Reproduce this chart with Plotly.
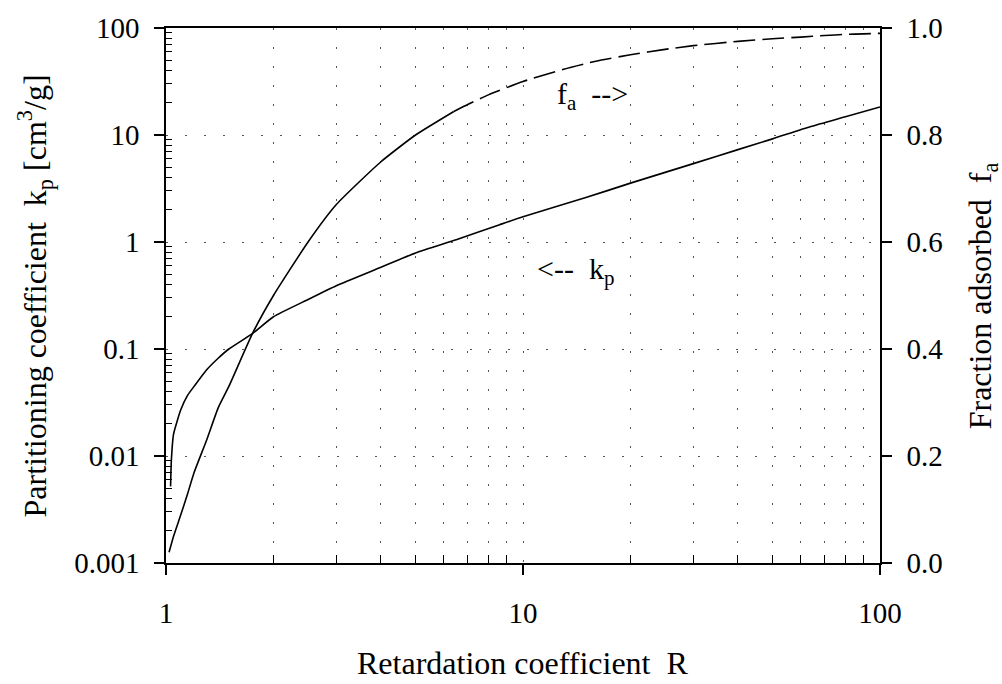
import plotly.graph_objects as go

# Retardation coefficient R versus partitioning coefficient k_p (left, log axis)
R_kp = [1.03, 1.035, 1.05, 1.1, 1.15, 1.2, 1.3, 1.4, 1.5, 1.75, 2.0, 2.5, 3.0,
        4.0, 5.0, 6.5, 8.6, 10, 15, 20, 30, 40, 50, 64, 80, 100]
kp = [0.0052, 0.009, 0.016, 0.027, 0.037, 0.045, 0.064, 0.082, 0.10, 0.14, 0.20,
      0.29, 0.39, 0.58, 0.79, 1.05, 1.45, 1.72, 2.6, 3.55, 5.4, 7.3, 9.2, 12.0,
      14.8, 18.3]

# Fraction adsorbed f_a (right, linear axis): solid part, then dashed part
R_fa_solid = [1.02, 1.05, 1.1, 1.15, 1.2, 1.3, 1.4, 1.5, 1.75, 2.0, 2.5, 3.0,
              4.0, 5.0, 6.4]
fa_solid = [0.02, 0.05, 0.09, 0.13, 0.17, 0.23, 0.29, 0.33, 0.43, 0.50, 0.60,
            0.67, 0.75, 0.80, 0.844]
R_fa_dash = [6.4, 7, 8, 10, 13, 16, 20, 25, 30, 40, 50, 60, 70, 80, 90, 100]
fa_dash = [0.844, 0.857, 0.875, 0.90, 0.923, 0.938, 0.95, 0.96, 0.967, 0.975,
           0.98, 0.983, 0.986, 0.988, 0.989, 0.99]

# Axis ticks
x_major = [1, 10, 100]
x_major_text = ["1", "10", "100"]
x_minor = [m * d for d in (1, 10) for m in range(2, 10)]
y_major = [0.001, 0.01, 0.1, 1, 10, 100]
y_major_text = ["0.001", "0.01", "0.1", "1", "10", "100"]
y_minor = [m * d for d in (0.001, 0.01, 0.1, 1, 10) for m in range(2, 10)]
fa_ticks = [0.0, 0.2, 0.4, 0.6, 0.8, 1.0]
fa_text = ["0.0", "0.2", "0.4", "0.6", "0.8", "1.0"]

FONT = "Liberation Serif"
FS_TICK = 29
FS_TITLE = 32
FS_NOTE = 30
INK = "black"
GRID = "#555555"
GRID_DASH = "2px,17px"

curve = dict(color=INK, width=1.6, shape="spline", smoothing=0.5)

fig = go.Figure()
fig.add_trace(go.Scatter(x=R_kp, y=kp, mode="lines", xaxis="x", yaxis="y",
                         line=curve, showlegend=False))
fig.add_trace(go.Scatter(x=R_fa_solid, y=fa_solid, mode="lines", xaxis="x", yaxis="y2",
                         line=curve, showlegend=False))
fig.add_trace(go.Scatter(x=R_fa_dash, y=fa_dash, mode="lines", xaxis="x", yaxis="y2",
                         line=dict(curve, dash="22px,7px"), showlegend=False))

tickfont = dict(family=FONT, size=FS_TICK, color=INK)

fig.update_layout(
    width=1002, height=684,
    margin=dict(l=166, r=122, t=20, b=121),
    paper_bgcolor="white", plot_bgcolor="white",
    font=dict(family=FONT, size=FS_TICK, color=INK),
    xaxis=dict(
        type="log", range=[0, 2], anchor="y",
        tickmode="array", tickvals=x_major, ticktext=x_major_text,
        ticks="outside", ticklen=10, tickwidth=1.5, tickcolor=INK,
        tickfont=tickfont, ticklabelstandoff=13,
        showline=True, linecolor=INK, linewidth=1.5, mirror=True,
        showgrid=True, gridcolor=GRID, gridwidth=1, griddash=GRID_DASH,
        zeroline=False,
        minor=dict(tickmode="array", tickvals=x_minor, ticks="inside",
                   ticklen=8, tickwidth=1.2, tickcolor=INK,
                   showgrid=True, gridcolor=GRID, gridwidth=1, griddash=GRID_DASH),
    ),
    xaxis2=dict(
        type="log", range=[0, 2], overlaying="x", anchor="y", side="bottom",
        tickmode="array", tickvals=x_major, ticks="inside", ticklen=9,
        tickwidth=1.5, tickcolor=INK, showticklabels=False,
        showgrid=False, showline=False, zeroline=False,
    ),
    xaxis3=dict(
        type="log", range=[0, 2], overlaying="x", anchor="y", side="top",
        tickmode="array", tickvals=x_major, ticks="inside", ticklen=9,
        tickwidth=1.5, tickcolor=INK, showticklabels=False,
        showgrid=False, showline=False, zeroline=False,
        minor=dict(tickmode="array", tickvals=x_minor, ticks="inside",
                   ticklen=8, tickwidth=1.2, tickcolor=INK, showgrid=False),
    ),
    yaxis=dict(
        type="log", range=[-3, 2], anchor="x", side="left",
        tickmode="array", tickvals=y_major, ticktext=y_major_text,
        ticks="outside", ticklen=10, tickwidth=1.5, tickcolor=INK,
        tickfont=tickfont, ticklabelstandoff=9,
        showline=True, linecolor=INK, linewidth=1.5,
        showgrid=True, gridcolor=GRID, gridwidth=1, griddash=GRID_DASH,
        zeroline=False,
        minor=dict(tickmode="array", tickvals=y_minor, ticks="inside",
                   ticklen=6, tickwidth=1.2, tickcolor=INK, showgrid=False),
    ),
    yaxis3=dict(
        type="log", range=[-3, 2], overlaying="y", anchor="x", side="left",
        tickmode="array", tickvals=y_major, ticks="inside", ticklen=9,
        tickwidth=1.5, tickcolor=INK, showticklabels=False,
        showgrid=False, showline=False, zeroline=False,
    ),
    yaxis2=dict(
        range=[0, 1], overlaying="y", anchor="x", side="right",
        tickmode="array", tickvals=fa_ticks, ticktext=fa_text,
        ticks="outside", ticklen=10, tickwidth=1.5, tickcolor=INK,
        tickfont=tickfont, ticklabelstandoff=9,
        showline=True, linecolor=INK, linewidth=1.5,
        showgrid=False, zeroline=False,
    ),
    yaxis4=dict(
        range=[0, 1], overlaying="y", anchor="x", side="right",
        tickmode="array", tickvals=fa_ticks, ticks="inside", ticklen=10,
        tickwidth=1.5, tickcolor=INK, showticklabels=False,
        showgrid=False, showline=False, zeroline=False,
    ),
)

title_font = dict(family=FONT, size=FS_TITLE, color=INK)
note_font = dict(family=FONT, size=FS_NOTE, color=INK)
annot = dict(showarrow=False, xref="paper", yref="paper",
             xanchor="center", yanchor="middle")
fig.add_annotation(text="Retardation coefficient  R", x=0.5, y=-0.186,
                   font=title_font, **annot)
fig.add_annotation(text="Partitioning coefficient  k<sub>p</sub> [cm<sup>3</sup>/g]",
                   x=-0.1835, y=0.5, textangle=-90, font=title_font, **annot)
fig.add_annotation(text="Fraction adsorbed  f<sub>a</sub>",
                   x=1.144, y=0.5, textangle=-90, font=title_font, **annot)
fig.add_annotation(text="f<sub>a</sub>  -->", x=0.597, y=0.873,
                   font=note_font, **annot)
fig.add_annotation(text="&lt;--  k<sub>p</sub>", x=0.573, y=0.545,
                   font=note_font, **annot)

fig.write_html("out.html")
